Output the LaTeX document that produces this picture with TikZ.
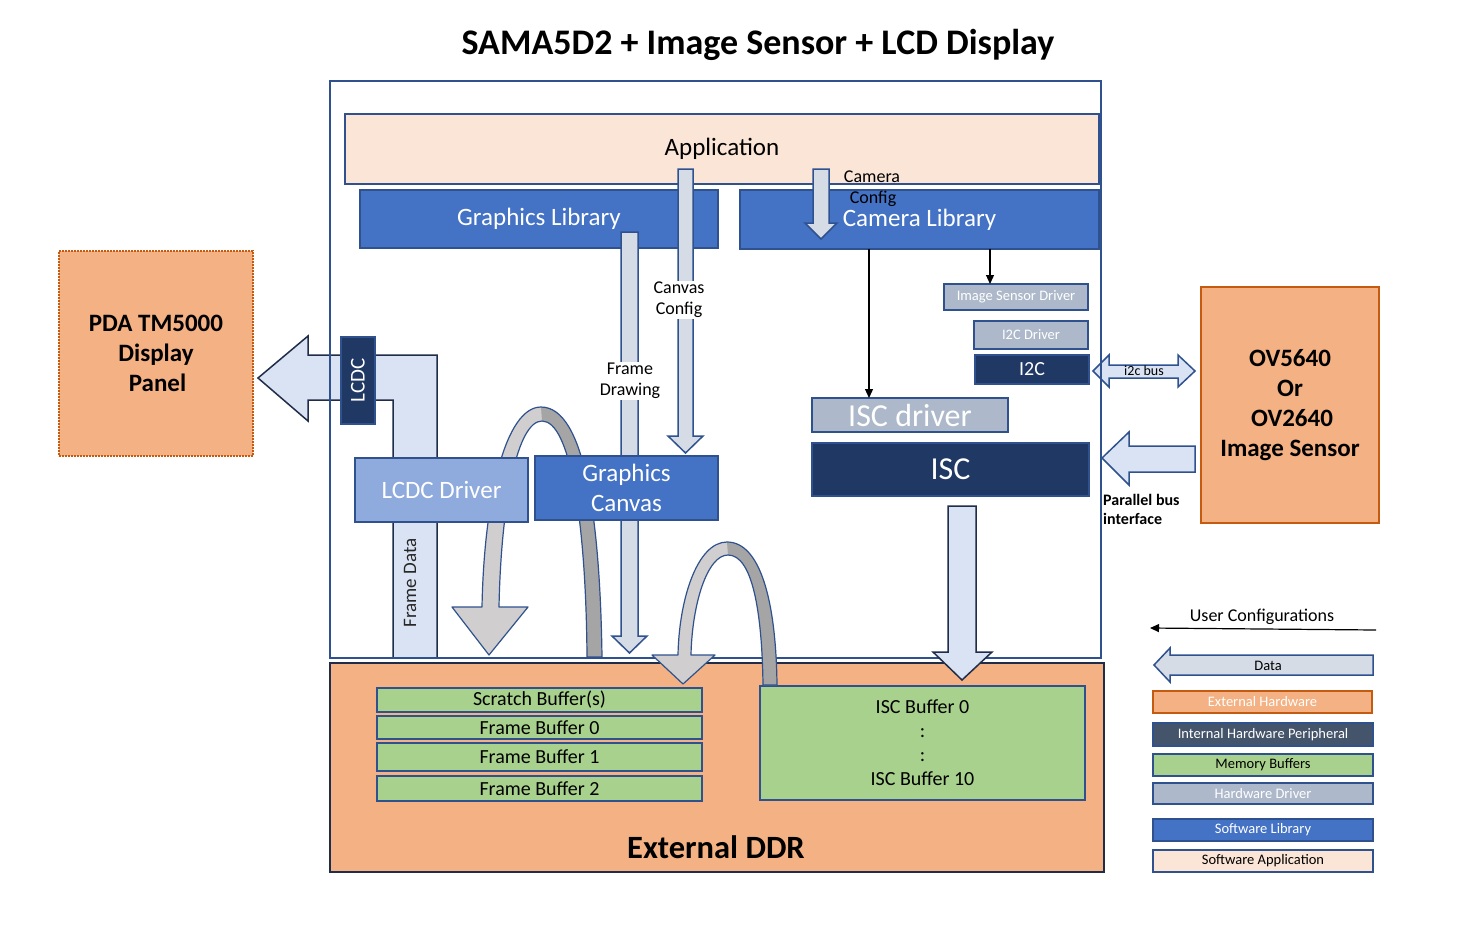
\documentclass[tikz,border=0pt]{standalone}
\usepackage{fontspec}
\setmainfont{Carlito}
\usetikzlibrary{arrows.meta,calc}
\definecolor{bord}{HTML}{2F528F}
\definecolor{darkbord}{HTML}{1F2D4A}
\definecolor{appfill}{HTML}{FBE5D6}
\definecolor{libfill}{HTML}{4472C4}
\definecolor{drvfill}{HTML}{ADB9CA}
\definecolor{perfill}{HTML}{203864}
\definecolor{lcdcdrv}{HTML}{8FAADC}
\definecolor{extfill}{HTML}{F4B183}
\definecolor{extbord}{HTML}{C55A11}
\definecolor{memfill}{HTML}{A9D18E}
\definecolor{arrfill}{HTML}{DAE3F3}
\definecolor{shaftfill}{HTML}{D6DCE5}
\definecolor{legint}{HTML}{44546A}
\definecolor{ribL}{HTML}{D0CECE}
\definecolor{ribD}{HTML}{A5A5A5}
\newcommand\fs[2]{\fontsize{#1}{#2}\selectfont}
\newcommand\mybox[7]{\node[#6, minimum width={(#4-#2)*1pt}, minimum height={(#5-#3)*1pt}] (#1) at ({(#2+#4)/2},{(#3+#5)/2}) {#7};}
\begin{document}
\begin{tikzpicture}[x=1pt,y=-1pt,
  box/.style={draw=bord, line width=1.5pt, inner sep=0pt, outer sep=0pt, align=center},
  barrow/.style={draw=bord, line width=1.5pt, fill=arrfill, line join=miter},
  sarrow/.style={draw=bord, line width=1.5pt, fill=shaftfill, line join=miter},
  thinarrow/.style={draw=black, line width=1.2pt, -{Triangle[length=9pt,width=8pt]}},
  lbl/.style={inner sep=1pt, align=center, font=\fs{18}{21}},
  ribbon/.style={draw=bord, line width=1.2pt, line join=round}]
\fill[white] (0,0) rectangle (1464,927);
\useasboundingbox (0,0) rectangle (1464,927);

% title
\node[font=\fs{36}{40}\bfseries] (title) at (758,45) {SAMA5D2 + Image Sensor + LCD Display};

% LCDC L-shaped data arrow
\draw[barrow, draw=darkbord] (258,378) -- (308,336) -- (308,355) -- (437,355) -- (437,658) -- (393,658) -- (393,400) -- (308,400) -- (308,421) -- cycle;

% ribbon arc 1
\fill[ribL] (602,657) .. controls (600,520) and (585,407) .. (541,407) .. controls (505,407) and (484,500) .. (482,607) -- (452,607) -- (489,655) -- (528,607) -- (499,607) .. controls (501,505) and (517,421) .. (542,421) .. controls (570,421) and (586,520) .. (587,657) -- cycle;
\fill[ribD] (541,407) .. controls (585,407) and (600,520) .. (602,657) -- (587,657) .. controls (586,520) and (570,421) .. (542,421) -- cycle;
\draw[ribbon] (602,657) .. controls (600,520) and (585,407) .. (541,407) .. controls (505,407) and (484,500) .. (482,607) -- (452,607) -- (489,655) -- (528,607) -- (499,607) .. controls (501,505) and (517,421) .. (542,421) .. controls (570,421) and (586,520) .. (587,657) -- cycle;

% software layers
\mybox{app}{345}{114}{1099}{184}{box, fill=appfill, font=\fs{25}{28}}{\raisebox{-2pt}{Application}}
\mybox{glib}{360}{190}{718}{248}{box, fill=libfill, text=white, font=\fs{25}{28}}{\raisebox{-1pt}{Graphics Library}}
\mybox{camlib}{740}{190}{1099}{249}{box, fill=libfill, text=white, font=\fs{25}{28}}{\raisebox{-1pt}{Camera Library}}

% canvas config arrow
\draw[sarrow] (678,169) -- (693,169) -- (693,436) -- (703,436) -- (685.5,453) -- (668,436) -- (678,436) -- cycle;
% frame drawing arrow
\draw[sarrow] (621,232) -- (638,232) -- (638,636) -- (647,636) -- (629.5,653) -- (612,636) -- (621,636) -- cycle;
% camera config arrow
\draw[sarrow] (813,169) -- (829,169) -- (829,223) -- (837,223) -- (821,239) -- (805,223) -- (813,223) -- cycle;

\node[lbl, fill=white] (cc) at (679,300) {Canvas\\Config};
\node[lbl, fill=white] (fd) at (630,381) {Frame\\Drawing};
\node[lbl] (camcfg) at (872,189) {Camera\\\hspace*{2pt}Config};

% LCDC driver, graphics canvas, LCDC
\mybox{lcdcdrv}{355}{458}{528}{522}{box, fill=lcdcdrv, text=white, font=\fs{25}{28}}{LCDC Driver}
\mybox{gcanvas}{535}{456}{718}{520}{box, fill=libfill, text=white, font=\fs{25}{30}}{Graphics\\Canvas}
\mybox{lcdc}{341}{337}{375}{424}{box, fill=perfill, draw=bord}{}
\node[rotate=90, text=white, font=\fs{21}{24}] (lcdctxt) at (lcdc.center) {LCDC};
\node[rotate=90, font=\fs{19}{22}, text=black!85] (fdata) at (410,583) {Frame Data};

% camera side
\mybox{isd}{944}{284}{1088}{310}{box, fill=drvfill, text=white, font=\fs{14.5}{16}}{Image Sensor Driver}
\mybox{i2cdrv}{974}{321}{1088}{349}{box, fill=drvfill, text=white, font=\fs{14.5}{16}}{I2C Driver}
\mybox{i2c}{975}{355}{1089}{384}{box, fill=perfill, text=white, font=\fs{20}{22}}{\raisebox{-1pt}{I2C}}
\mybox{iscdrv}{812}{398}{1008}{432}{box, fill=drvfill, text=white, font=\fs{32}{34}}{ISC driver}
\mybox{isc}{812}{443}{1089}{496}{box, fill=perfill, text=white, font=\fs{32}{34}}{ISC}

\coordinate (xa) at (869,0);
\coordinate (xb) at (990,0);
\draw[thinarrow] (camlib.south -| xa) -- (iscdrv.north -| xa);
\draw[thinarrow] (camlib.south -| xb) -- (isd.north -| xb);

% i2c bus double arrow
\draw[barrow] (1093,371) -- (1109,355) -- (1109,365) -- (1178,365) -- (1178,355) -- (1195,371) -- (1178,387) -- (1178,378) -- (1109,378) -- (1109,387) -- cycle;
\node[font=\fs{14}{16}, inner sep=0pt] (i2cbus) at (1144,371) {i2c bus};
% parallel bus arrow
\draw[barrow] (1102,458) -- (1129,432) -- (1129,446) -- (1195,446) -- (1195,472) -- (1129,472) -- (1129,485) -- cycle;
\node[font=\fs{16}{19}\bfseries, align=left, anchor=north west, inner sep=0pt] (pbus) at (1103,494) {Parallel bus\\interface};

% SoC frame
\mybox{soc}{330}{81}{1101}{658}{box}{}

% External DDR
\mybox{ddr}{330}{663}{1104}{872}{box, fill=extfill, draw=darkbord, line width=2pt}{}
\node[font=\fs{32.5}{36}\bfseries] (ddrtxt) at (716,847) {External DDR};
\mybox{sb}{377}{688}{702}{712}{box, fill=memfill, font=\fs{20}{22}}{Scratch Buffer(s)}
\mybox{fb0}{377}{716}{702}{739}{box, fill=memfill, font=\fs{20}{22}}{Frame Buffer 0}
\mybox{fb1}{377}{743}{702}{771}{box, fill=memfill, font=\fs{20}{22}}{Frame Buffer 1}
\mybox{fb2}{377}{776}{702}{801}{box, fill=memfill, font=\fs{20}{22}}{Frame Buffer 2}
\mybox{iscbuf}{760}{686}{1085}{800}{box, fill=memfill, font=\fs{20}{24}}{ISC Buffer 0\\:\\:\\ISC Buffer 10}

% ISC data arrow
\draw[barrow, draw=darkbord] (948,506) -- (976,506) -- (976,652) -- (992,652) -- (962,680) -- (933,652) -- (948,652) -- cycle;

% ribbon arc 2
\fill[ribL] (777,685) .. controls (776,600) and (760,542) .. (727,542) .. controls (697,542) and (679,600) .. (678,655) -- (652,655) -- (683,684) -- (715,655) -- (691,655) .. controls (692,605) and (707,555) .. (728,555) .. controls (752,555) and (762,610) .. (763,685) -- cycle;
\fill[ribD] (727,542) .. controls (760,542) and (776,600) .. (777,685) -- (763,685) .. controls (762,610) and (752,555) .. (728,555) -- cycle;
\draw[ribbon] (777,685) .. controls (776,600) and (760,542) .. (727,542) .. controls (697,542) and (679,600) .. (678,655) -- (652,655) -- (683,684) -- (715,655) -- (691,655) .. controls (692,605) and (707,555) .. (728,555) .. controls (752,555) and (762,610) .. (763,685) -- cycle;

% external hardware
\mybox{pda}{59}{251}{253}{456}{box, fill=extfill, draw=extbord, dash pattern=on 2pt off 1pt, font=\fs{25}{30}\bfseries}{PDA TM5000\\Display\\\hspace*{3pt}Panel}
\mybox{ov}{1201}{287}{1379}{523}{box, fill=extfill, draw=extbord, line width=2pt, font=\fs{25}{30}\bfseries}{OV5640\\Or\\\hspace*{4pt}OV2640\\Image Sensor}

% legend
\coordinate (uc1) at (1376,630);
\coordinate (uc2) at (1150,628);
\draw[thinarrow] (uc1) -- (uc2);
\node[font=\fs{18}{20}] (uctxt) at (1262,617) {User Configurations};
\draw[sarrow] (1154,665) -- (1170,648) -- (1170,655) -- (1373,655) -- (1373,675) -- (1170,675) -- (1170,682) -- cycle;
\node[font=\fs{14.5}{16}] (datatxt) at (1268,666) {Data};
\mybox{lext}{1153}{691}{1372}{713}{box, fill=extfill, draw=extbord, text=white, font=\fs{14.5}{16}}{External Hardware}
\mybox{lint}{1153}{723}{1373}{746}{box, fill=legint, text=white, font=\fs{14.5}{16}}{Internal Hardware Peripheral}
\mybox{lmem}{1153}{754}{1373}{776}{box, fill=memfill, font=\fs{14.5}{16}}{Memory Buffers}
\mybox{ldrv}{1153}{783}{1373}{804}{box, fill=drvfill, text=white, font=\fs{14.5}{16}}{Hardware Driver}
\mybox{llib}{1153}{819}{1373}{841}{box, fill=libfill, text=white, font=\fs{14.5}{16}}{Software Library}
\mybox{lapp}{1153}{850}{1373}{872}{box, fill=appfill, font=\fs{14.5}{16}}{Software Application}
\end{tikzpicture}
\end{document}
